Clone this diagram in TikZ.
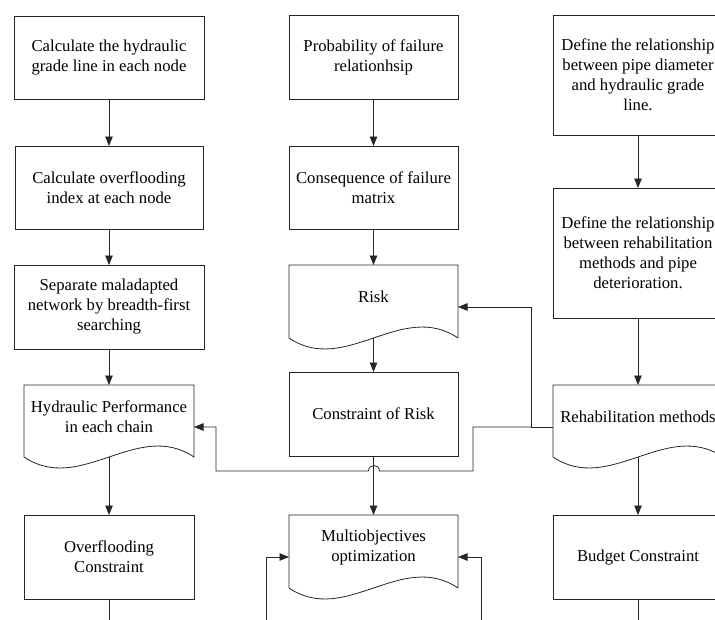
\documentclass[tikz,border=0pt]{standalone}
\usepackage{fontspec}
\setmainfont{Liberation Serif}
\usetikzlibrary{arrows.meta,calc}
\newcommand{\docpath}[2]{\draw[line] (#1.north west) -- (#1.north east) -- (#1.south east) .. controls ($(#1.south east)+(-#2/3,-38)$) and ($(#1.south west)+(#2/3,38)$) .. (#1.south west) -- cycle;}
\begin{document}
\begin{tikzpicture}[x=1pt,y=-1pt,
  line/.style={draw=black!85, line width=0.8pt},
  arr/.style={line, -{Triangle[length=9.5pt,width=7.5pt]}},
  lbl/.style={align=center, inner sep=0pt, font=\fontsize{16.7}{20}\selectfont},
  box/.style={lbl, line, rectangle, outer sep=0pt},
  body/.style={rectangle, inner sep=0pt, outer sep=0pt}]
\useasboundingbox (0,0) rectangle (715,619);
\clip (0,0) rectangle (715,619);
% left column
\node[box, minimum width=190pt, minimum height=83pt] (hgl) at (109,57.5) {Calculate the hydraulic\\grade line in each node};
\node[box, minimum width=188pt, minimum height=83pt] (ovi) at (109,187.5) {Calculate overflooding\\index at each node};
\node[box, minimum width=190pt, minimum height=84pt] (sep) at (109,307) {Separate maladapted\\network by breadth-first\\searching};
\node[body, minimum width=170pt, minimum height=72pt] (hp) at (109,421) {};
\docpath{hp}{170}
\node[lbl] (hpt) at (109,417) {Hydraulic Performance\\in each chain};
\node[box, minimum width=170pt, minimum height=84pt] (ovc) at (109,557) {Overflooding\\Constraint};
% middle column
\node[box, minimum width=169pt, minimum height=84pt] (pof) at (373.5,57) {Probability of failure\\relationhsip};
\node[box, minimum width=169pt, minimum height=83pt] (cof) at (373.5,187.5) {Consequence of failure\\matrix};
\node[body, minimum width=169pt, minimum height=73pt] (risk) at (373.5,301.5) {};
\docpath{risk}{169}
\node[lbl] (riskt) at (373.5,297) {Risk};
\node[box, minimum width=169pt, minimum height=84pt] (cr) at (373.5,414) {Constraint of Risk};
\node[body, minimum width=169pt, minimum height=73pt] (opt) at (373.5,551.5) {};
\docpath{opt}{169}
\node[lbl] (optt) at (373.5,547) {Multiobjectives\\optimization};
% right column
\node[box, minimum width=170pt, minimum height=120pt] (dr1) at (638,75) {Define the relationship\\between pipe diameter\\and hydraulic grade\\line.};
\node[box, minimum width=170pt, minimum height=130pt] (dr2) at (638,253) {Define the relationship\\between rehabilitation\\methods and pipe\\deterioration.};
\node[body, minimum width=170pt, minimum height=72pt] (rm) at (638,421) {};
\docpath{rm}{170}
\node[lbl] (rmt) at (638,417) {Rehabilitation methods};
\node[box, minimum width=170pt, minimum height=84pt] (bc) at (638,557) {Budget Constraint};
% vertical arrows
\draw[arr] (hgl) -- (ovi);
\draw[arr] (ovi) -- (sep);
\draw[arr] (sep.south) -- (hp.north);
\draw[arr] (hp.south) -- (ovc.north);
\draw[arr] (pof) -- (cof);
\draw[arr] (cof.south) -- (risk.north);
\draw[arr] (risk.south) -- (cr.north);
\draw[arr] (cr.south) -- (opt.north);
\draw[arr] (dr1) -- (dr2);
\draw[arr] (dr2.south) -- (rm.north);
\draw[arr] (rm.south) -- (bc.north);
\coordinate (bot) at (0,625);
\draw[line] (ovc.south) -- (ovc.south |- bot);
\draw[line] (bc.south) -- (bc.south |- bot);
% feedback connectors
\coordinate (j1) at (531,427);
\coordinate (j6) at (531,307);
\coordinate (j2) at (473,427);
\coordinate (j3) at (473,471);
\coordinate (h1) at (379.5,471);
\coordinate (h2) at (368.5,471);
\coordinate (j4) at (216,471);
\coordinate (j5) at (216,427);
\draw[line] (rm.west |- j1) -- (j1);
\draw[arr] (j1) -- (j6) -- (risk.east |- j6);
\draw[arr] (j1) -- (j2) -- (j3) -- (h1) .. controls (379.5,463.7) and (368.5,463.7) .. (h2) -- (j4) -- (j5) -- (hp.east |- j5);
% bottom inputs to optimization
\coordinate (bl) at (266,625);
\coordinate (blc) at (266,557);
\coordinate (br) at (481,625);
\coordinate (brc) at (481,557);
\draw[arr] (bl) -- (blc) -- (opt.west |- blc);
\draw[arr] (br) -- (brc) -- (opt.east |- brc);
\end{tikzpicture}
\end{document}
